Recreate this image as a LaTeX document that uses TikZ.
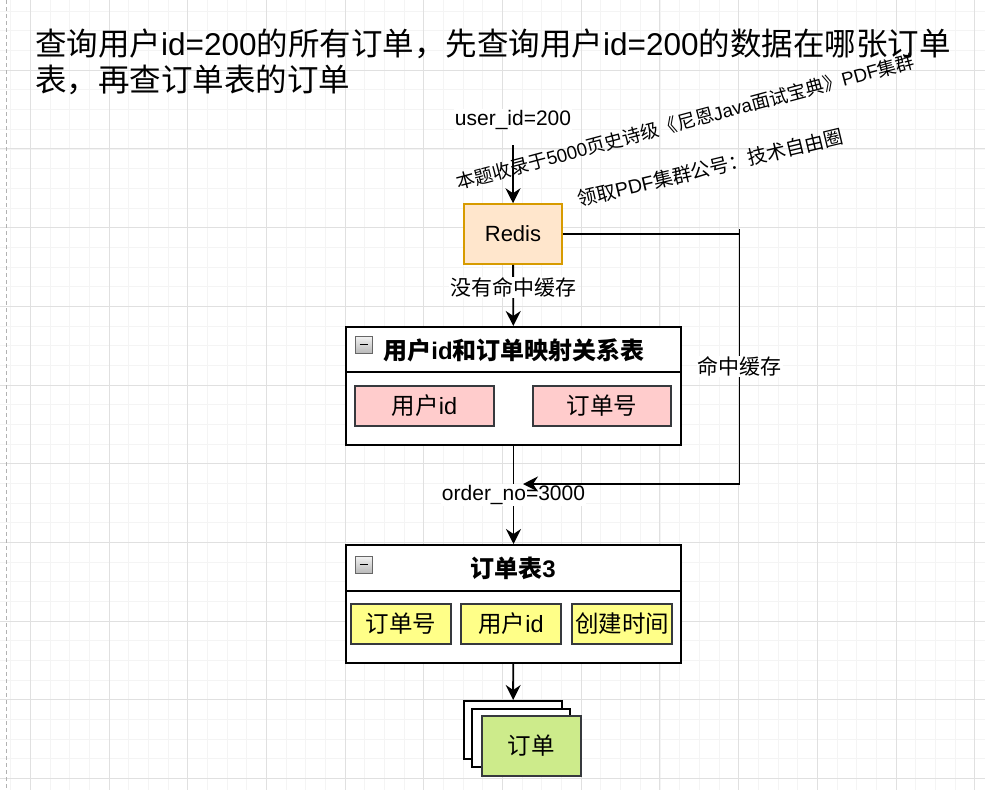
\documentclass[tikz,border=0pt]{standalone}
\usepackage{fontspec}
\setmainfont{Liberation Sans}
\newfontfamily\cjk{Noto Sans CJK SC}
\usetikzlibrary{arrows.meta}
\definecolor{redisFill}{HTML}{FFE6CC}
\definecolor{redisStroke}{HTML}{D79B00}
\definecolor{pinkFill}{HTML}{FFCCCC}
\definecolor{yellowFill}{HTML}{FFFF88}
\definecolor{greenFill}{HTML}{CDEB8B}
\definecolor{fieldStroke}{HTML}{36393D}
\definecolor{gridMinor}{HTML}{F4F4F4}
\definecolor{gridMajor}{HTML}{E0E0E0}
\begin{document}
\begin{tikzpicture}[x=1pt,y=-1pt,
  conn/.style={line width=1.9pt, draw=black},
  arr/.style={conn, -{Stealth[length=15pt,width=15pt,inset=5pt]}},
  lbl/.style={fill=white, inner sep=1pt, font=\fontsize{21}{25}\selectfont},
  fieldbox/.style={draw=fieldStroke, line width=1.5pt, minimum height=40pt, inner sep=0pt, font=\fontsize{23.5}{28}\selectfont},
  tablebox/.style={draw=black, line width=2pt, fill=white, minimum width=335pt, inner sep=0pt},
  hdr/.style={font=\fontsize{24}{28}\selectfont\bfseries},
  docbox/.style={draw=black, line width=2pt, fill=white, minimum width=98pt, minimum height=58pt, inner sep=0pt},
  icon/.style={draw=gray!80!black, line width=0.8pt, top color=gray!10, bottom color=gray!55, minimum width=17pt, minimum height=17pt, inner sep=0pt},
  wm/.style={inner sep=0pt}
]
\useasboundingbox (0,0) rectangle (985,790);
\fill[white] (0,0) rectangle (985,790);
% grid
\foreach \k in {-1,...,49} {
  \draw[gridMinor, line width=0.8pt] ({30.3+19.675*\k},0) -- ({30.3+19.675*\k},790);
}
\foreach \k in {-3,...,37} {
  \draw[gridMinor, line width=0.8pt] (0,{70.2+19.675*\k}) -- (985,{70.2+19.675*\k});
}
\foreach \k in {0,...,12} {
  \draw[gridMajor, line width=0.9pt] ({30.3+78.7*\k},0) -- ({30.3+78.7*\k},790);
}
\foreach \k in {-1,...,10} {
  \draw[gridMajor, line width=0.9pt] (0,{70.2+78.7*\k}) -- (985,{70.2+78.7*\k});
}
\draw[gray!60, line width=0.9pt, dash pattern=on 4pt off 3pt] (6,0) -- (6,790);

% title
\node[anchor=base west, align=left, inner sep=0pt, font=\fontsize{31.5}{36}\selectfont] (title) at (35,91)
  {{\cjk 查询用户}id=200{\cjk 的所有订单，先查询用户}id=200{\cjk 的数据在哪张订单}\\{\cjk 表，再查订单表的订单}};

% start label
\node[anchor=base, inner sep=1pt, fill=white, font=\fontsize{21}{25}\selectfont] (ulbl) at (513,125) {user\_id=200};
\coordinate (start) at (513,145);

% Redis
\node[draw=redisStroke, fill=redisFill, line width=1.5pt, minimum width=98pt, minimum height=60pt, inner sep=0pt, font=\fontsize{22}{26}\selectfont] (redis) at (513,234) {Redis};
\draw[arr] (start) -- (redis);

% table 1
\node[tablebox, minimum height=118pt] (t1) at (513.5,386) {};
\draw[black, line width=2pt] (346,372) -- (681,372);
\node[icon] (i1) at (363.5,344.5) {};
\draw[black, line width=1.6pt] (359.5,344.5) -- (367.5,344.5);
\node[hdr] (h1) at (514,350) {{\cjk\bfseries 用户}id{\cjk\bfseries 和订单映射关系表}};
\node[fieldbox, fill=pinkFill, minimum width=139pt] (f11) at (424.5,406) {{\cjk 用户}id};
\node[fieldbox, fill=pinkFill, minimum width=138pt] (f12) at (602,406) {\cjk 订单号};

% table 2
\node[tablebox, minimum height=118pt] (t2) at (513.5,604) {};
\draw[black, line width=2pt] (346,590.5) -- (681,590.5);
\node[icon] (i2) at (363.5,564.5) {};
\draw[black, line width=1.6pt] (359.5,564.5) -- (367.5,564.5);
\node[hdr] (h2) at (513,568) {{\cjk\bfseries 订单表}3};
\node[fieldbox, fill=yellowFill, minimum width=100pt] (f21) at (401,624) {\cjk 订单号};
\node[fieldbox, fill=yellowFill, minimum width=100pt] (f22) at (511,624) {{\cjk 用户}id};
\node[fieldbox, fill=yellowFill, minimum width=100pt] (f23) at (622,624) {\cjk 创建时间};

% document stack
\node[docbox] (d1) at (513,730) {};
\node[docbox] (d2) at (521,737.5) {};
\node[docbox, draw=fieldStroke, fill=greenFill, minimum width=99pt, minimum height=60pt, font=\fontsize{23.5}{28}\selectfont] (d3) at (531,746) {\cjk 订单};

% connectors
\draw[arr] (redis) -- node[lbl, pos=0.37] {\cjk 没有命中缓存} (t1);
\draw[arr] (t1) -- node[lbl, pos=0.5] (olbl) {order\_no=3000} (t2);
\draw[arr] (t2) -- (d1);
\coordinate (c1) at (739.5,234);
\coordinate (c2) at (739.5,484);
\coordinate (hitend) at (523,484);
\draw[arr] (redis.east) -- (c1) -- node[lbl, pos=0.53] {\cjk 命中缓存} (c2) -- (hitend);
\draw[conn] (c1) -- ++(0,-5);

% watermark
\node[wm, rotate=15, anchor=base west, font=\fontsize{18.7}{22}\selectfont] (wm1) at (458,190)
  {{\cjk 本题收录于}5000{\cjk 页史诗级《尼恩}Java{\cjk 面试宝典》}PDF{\cjk 集群}};
\node[wm, rotate=13.5, anchor=base west, font=\fontsize{19.5}{23}\selectfont] (wm2) at (579,207)
  {{\cjk 领取}PDF{\cjk 集群公号：技术自由圈}};
\end{tikzpicture}
\end{document}
